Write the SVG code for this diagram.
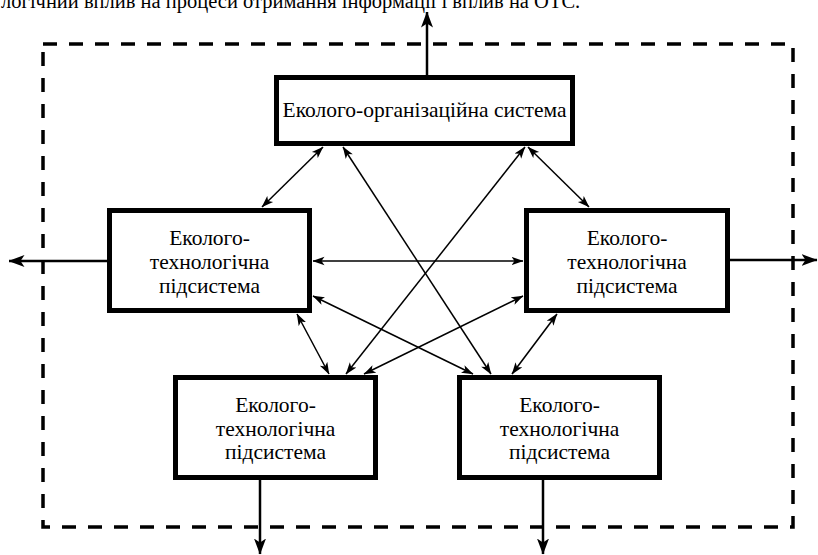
<svg xmlns="http://www.w3.org/2000/svg" width="818" height="555" viewBox="0 0 818 555">
<style>
.box{fill:#fff;stroke:#000;stroke-width:5}
.t{font-family:"Liberation Serif","DejaVu Serif",serif;font-size:21.5px;fill:#000;text-anchor:middle}
.c{stroke:#000;stroke-width:1.5;fill:none;marker-start:url(#ah);marker-end:url(#ah)}
.o{stroke:#000;stroke-width:2.5;fill:none;marker-end:url(#big)}
</style>
<defs>
<marker id="ah" markerUnits="userSpaceOnUse" markerWidth="12" markerHeight="10" viewBox="0 0 12 10" refX="11.5" refY="5" orient="auto-start-reverse">
<path d="M0,0.8 L12,5 L0,9.2 L3,5 z" fill="#000"/>
</marker>
<marker id="big" markerUnits="userSpaceOnUse" markerWidth="16" markerHeight="13" viewBox="0 0 16 13" refX="15.5" refY="6.5" orient="auto">
<path d="M0,0.5 L16,6.5 L0,12.5 L4,6.5 z" fill="#000"/>
</marker>
</defs>
<text class="t" x="1" y="8" style="text-anchor:start;font-size:20.5px">логічний вплив на процеси отримання інформації і вплив на ОТС.</text>
<rect x="43" y="44" width="750" height="483" fill="none" stroke="#000" stroke-width="3.5" stroke-dasharray="14 12"/>
<g id="connectors">
<line class="o" x1="427" y1="75" x2="427" y2="12"/>
<line class="o" x1="107" y1="261" x2="9" y2="261"/>
<line class="o" x1="730" y1="260" x2="817" y2="260"/>
<line class="o" x1="260" y1="480" x2="260" y2="554"/>
<line class="o" x1="543" y1="480" x2="543" y2="554"/>
<line class="c" x1="323" y1="147" x2="262" y2="207"/>
<line class="c" x1="528" y1="147" x2="589" y2="207"/>
<line class="c" x1="343" y1="147" x2="491" y2="374"/>
<line class="c" x1="525" y1="147" x2="346" y2="374"/>
<line class="c" x1="313" y1="261" x2="523" y2="261"/>
<line class="c" x1="313" y1="296" x2="473" y2="374"/>
<line class="c" x1="523" y1="296" x2="364" y2="374"/>
<line class="c" x1="297" y1="314" x2="329" y2="374"/>
<line class="c" x1="557" y1="314" x2="512" y2="374"/>
</g>
<g id="top">
<rect class="box" x="276.5" y="77.5" width="296" height="66"/>
<text class="t" x="424.5" y="117">Еколого-організаційна система</text>
</g>
<g id="midLeft">
<rect class="box" x="109.5" y="210.5" width="200" height="100"/>
<text class="t" x="209.5" y="244.5">Еколого-</text>
<text class="t" x="209.5" y="268.5">технологічна</text>
<text class="t" x="209.5" y="292.5">підсистема</text>
</g>
<g id="midRight">
<rect class="box" x="526.5" y="210.5" width="201" height="100"/>
<text class="t" x="627" y="244.5">Еколого-</text>
<text class="t" x="627" y="268.5">технологічна</text>
<text class="t" x="627" y="292.5">підсистема</text>
</g>
<g id="botLeft">
<rect class="box" x="175.5" y="377.5" width="200" height="100"/>
<text class="t" x="275.5" y="412">Еколого-</text>
<text class="t" x="275.5" y="435.5">технологічна</text>
<text class="t" x="275.5" y="459">підсистема</text>
</g>
<g id="botRight">
<rect class="box" x="459.5" y="377.5" width="200" height="100"/>
<text class="t" x="559.5" y="412">Еколого-</text>
<text class="t" x="559.5" y="435.5">технологічна</text>
<text class="t" x="559.5" y="459">підсистема</text>
</g>
</svg>
